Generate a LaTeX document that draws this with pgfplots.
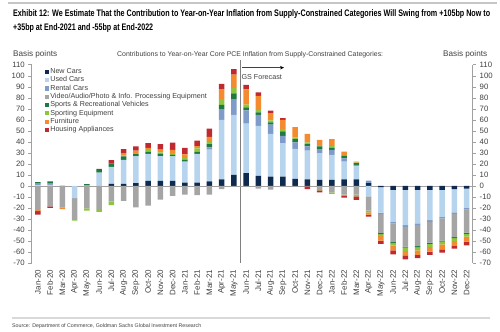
\documentclass[border=0pt]{standalone}
\usepackage{pgfplots}
\pgfplotsset{compat=1.18}
\usepackage{pgfplotstable}
\usepackage{graphicx}
\usepackage{fontspec}
\setmainfont{Liberation Sans}
\usetikzlibrary{arrows.meta}

\definecolor{cN}{HTML}{0E2A4F}
\definecolor{cU}{HTML}{B7D4EF}
\definecolor{cR}{HTML}{7E9BC9}
\definecolor{cV}{HTML}{A5A5A5}
\definecolor{cS}{HTML}{1F7A3F}
\definecolor{cSE}{HTML}{8CC63F}
\definecolor{cF}{HTML}{F58B2F}
\definecolor{cH}{HTML}{BE2A2F}
\definecolor{axg}{HTML}{A0A0A0}
\definecolor{txt}{HTML}{404040}

% positive parts
\pgfplotstableread{
x N U R V S SE F H
0 0 0.5 1.5 0 1.5 0 0 0
1 0 1 1 0 2 0 0 0
2 0 0.5 0 0 0 0 0 0
3 0 0 0 0 0 0 0 0
4 0 0 0.5 0 1 0 0 0
5 0 12 0 0 2.3 0 0 1.2
6 1.8 15.5 0 0 3 0 0 3
7 1.8 21.8 0 0 3.1 1 2 3.6
8 2.5 24.2 0 0 2.1 1 2.2 3.8
9 4.5 24.5 0 0 2 1.5 2 4.3
10 4.5 22.5 0 0 2 1.5 2.5 5
11 4.5 22.2 0 0 1.5 1.5 3 6.5
12 3 19 0 0 1.6 1.5 3.5 6
13 3 26 0 0 2 3 2 5
14 4 29 2 0 3 2 4.5 7.5
15 6 54 9.7 0 3.9 5.2 9.1 4.8
16 10 54.5 14.3 0 5.2 4.8 12.2 5
17 11.5 45 12 0 2.7 2.5 14 4
18 9 45.5 10 0 2.2 2.3 12.8 3
19 8.5 38.8 8.2 0 2.1 1.8 6.6 2.2
20 8.5 30.3 6.7 0 3.9 2.1 8.5 1.5
21 6.4 27.2 5.8 0 3 1.6 9.3 0
22 6 26 3.8 0 2.1 1.5 7.9 0
23 5.5 24.2 3.6 0 2.5 1.2 4.8 0
24 5.5 22.7 4.5 0 2.1 1.5 6.1 0
25 6 16 3 0 2.3 0.9 3 0
26 6 11.6 1.4 0 1.6 0.5 0.9 0
27 2.4 0 2.4 0 0 0 0 0
28 0 0 0 0 0 0 0 0
29 0 0 0 0 0 0 0 0
30 0 0 0 0 0 0 0 0
31 0 0 0 0 0 0 0 0
32 0 0 0 0 0 0 0 0
33 0 0 0 0 0 0 0 0
34 0 0 0 0 0 0 0 0
35 0 0 0 0 0 0 0 0
}\pos

% negative parts
\pgfplotstableread{
x N U R V S SE F H
0 0 0 0 -22 0 0 -1 -3
1 0 0 0 -18.5 0 0 0 -1.5
2 0 0 0 -19.5 0 0 -1.5 0
3 0 -11 0 -19 0 -1.5 0 0
4 0 0 0 -20.5 0 -2 0 0
5 0 0 0 -21 0 -2.5 0 0
6 0 0 0 -14 0 -3.5 0 0
7 0 0 0 -13.5 0 0 0 0
8 0 0 0 -19.5 0 0 0 0
9 0 0 0 -18 0 0 0 0
10 0 0 0 -12.5 0 0 0 0
11 0 0 0 -9 0 0 0 0
12 0 0 0 -8 0 0 0 0
13 0 0 0 -8.5 0 0 0 0
14 0 0 0 -8 0 0 0 0
15 0 0 0 -3 0 0 0 0
16 0 0 0 -1 0 0 0 0
17 0 0 0 -0.5 0 0 0 0
18 0 0 0 -2.5 0 0 0 0
19 0 0 0 -3.5 0 0 0 0
20 0 0 0 -0.5 0 0 0 0
21 0 0 0 -0.5 0 0 0 0
22 0 0 0 -0.5 0 0 0 -2.5
23 0 0 0 -3 0 -1 0 -2
24 0 0 0 -6 0 -1.3 0 0
25 0 0 0 -8 0 -1 0 -1.6
26 0 0 0 -8 0 -1.5 0 -3.2
27 0 -9.5 0 -13 0 -1.5 -2 -2
28 -1.2 -23 -1.5 -17 -1 -2 -4 -3
29 -3.6 -29 -1.5 -17 -1 -2 -4.5 -3.5
30 -3.6 -32 -1.5 -18 -1 -3 -4 -3.5
31 -3.6 -30.5 -1.5 -19 -1 -3 -4 -3
32 -3.6 -27.5 -1.5 -19 -1 -3 -4 -3
33 -3.6 -24.5 -1.5 -20 -1 -2.5 -4.5 -3
34 -3 -21 -1.5 -21 -1 -2.5 -4.5 -2.5
35 -2.5 -17.5 -1.5 -21 -1 -2.5 -4.5 -3.5
}\neg

\pgfplotsset{
  common/.style={
    at={(31.7bp,69bp)}, anchor=south west,
    scale only axis, width=441bp, height=198.3bp,
    xmin=-0.5, xmax=35.5, ymin=-70, ymax=110,
    ybar stacked, bar width=5.6bp,
    clip=false,
    ytick={-70,-60,-50,-40,-30,-20,-10,0,10,20,30,40,50,60,70,80,90,100,110},
    yticklabels={-70,-60,-50,-40,-30,-20,-10,0,10,20,30,40,50,60,70,80,90,100,110},
    yticklabel style={font=\fontsize{7.8}{8}\selectfont, text=txt},
    tick align=outside, major tick length=3.5bp,
    every tick/.style={axg},
    axis line style={axg, line width=0.6bp},
  },
}

\begin{document}
\begin{tikzpicture}
\path[use as bounding box] (0,0) rectangle (500bp,332bp);

% header / footer
\draw[gray!45, line width=1.2bp] (8bp,329bp) -- (497bp,329bp);
\node[anchor=base west, inner sep=0] at (13bp,315.5bp)
  {\resizebox{477bp}{\height}{\fontsize{9.5}{10}\selectfont\bfseries Exhibit 12: We Estimate That the Contribution to Year-on-Year Inflation from Supply-Constrained Categories Will Swing from +105bp Now to}};
\node[anchor=base west, inner sep=0] at (13bp,301.5bp)
  {\resizebox{140bp}{\height}{\fontsize{9.5}{10}\selectfont\bfseries +35bp at End-2021 and -55bp at End-2022}};
\node[anchor=base west, inner sep=0, text=txt] at (13bp,275bp)
  {\resizebox{44bp}{!}{\fontsize{8}{9}\selectfont Basis points}};
\node[anchor=base west, inner sep=0, text=txt] at (443bp,275bp)
  {\resizebox{44bp}{!}{\fontsize{8}{9}\selectfont Basis points}};
\node[anchor=base west, inner sep=0, text=txt] at (117bp,275bp)
  {\resizebox{266bp}{!}{\fontsize{8}{9}\selectfont Contributions to Year-on-Year Core PCE Inflation from Supply-Constrained Categories:}};
\draw[gray!30, line width=1.6bp] (12bp,14bp) -- (490bp,14bp);
\node[anchor=base west, inner sep=0, text=txt] at (12bp,4bp)
  {\resizebox{189bp}{!}{\fontsize{7}{8}\selectfont Source: Department of Commerce, Goldman Sachs Global Investment Research}};

% positive stacks, left axis, legend
\begin{axis}[common,
  axis y line*=left, axis x line*=bottom,
  x axis line style={draw=none},
  xtick={0,...,35},
  xticklabels={Jan-20,Feb-20,Mar-20,Apr-20,May-20,Jun-20,Jul-20,Aug-20,Sep-20,Oct-20,Nov-20,Dec-20,Jan-21,Feb-21,Mar-21,Apr-21,May-21,Jun-21,Jul-21,Aug-21,Sep-21,Oct-21,Nov-21,Dec-21,Jan-22,Feb-22,Mar-22,Apr-22,May-22,Jun-22,Jul-22,Aug-22,Sep-22,Oct-22,Nov-22,Dec-22},
  xticklabel style={rotate=90, anchor=east, font=\fontsize{8}{8}\selectfont, text=txt},
  x tick style={draw=none},
  legend cell align=left,
  legend image code/.code={\fill[#1] (0bp,-2.1bp) rectangle (4.2bp,2.1bp);},
  legend style={at={(rel axis cs:0.03,0.985)}, anchor=north west, draw=none, fill=none,
    font=\fontsize{7.2}{8}\selectfont, text=txt, row sep=0.4bp, inner sep=0pt,
    nodes={inner ysep=0.5bp, inner xsep=1bp, text height=5.3bp, text depth=1.6bp}},
]
\addplot[fill=cN, draw=none] table[x=x, y=N] {\pos};
\addplot[fill=cU, draw=none] table[x=x, y=U] {\pos};
\addplot[fill=cR, draw=none] table[x=x, y=R] {\pos};
\addplot[fill=cV, draw=none] table[x=x, y=V] {\pos};
\addplot[fill=cS, draw=none] table[x=x, y=S] {\pos};
\addplot[fill=cSE, draw=none] table[x=x, y=SE] {\pos};
\addplot[fill=cF, draw=none] table[x=x, y=F] {\pos};
\addplot[fill=cH, draw=none] table[x=x, y=H] {\pos};
\legend{New Cars, Used Cars, Rental Cars, Video/Audio/Photo \& Info. Processing Equipment, Sports \& Recreational Vehicles, Sporting Equipment, Furniture, Housing Appliances}
\end{axis}

% negative stacks, right axis
\begin{axis}[common,
  axis y line*=right, axis x line=none,
  yticklabel style={anchor=west},
]
\addplot[fill=cN, draw=none] table[x=x, y=N] {\neg};
\addplot[fill=cU, draw=none] table[x=x, y=U] {\neg};
\addplot[fill=cR, draw=none] table[x=x, y=R] {\neg};
\addplot[fill=cV, draw=none] table[x=x, y=V] {\neg};
\addplot[fill=cS, draw=none] table[x=x, y=S] {\neg};
\addplot[fill=cSE, draw=none] table[x=x, y=SE] {\neg};
\addplot[fill=cF, draw=none] table[x=x, y=F] {\neg};
\addplot[fill=cH, draw=none] table[x=x, y=H] {\neg};
\draw[axg, line width=0.6bp] (axis cs:-0.5,0) -- (axis cs:35.5,0);
\draw[gray, line width=0.6bp] (axis cs:16.5,-70) -- (axis cs:16.5,114);
\draw[txt, line width=0.6bp, -{Stealth[length=4bp, width=3.5bp, black]}] (axis cs:16.7,107.3) -- (axis cs:20.1,107.3);
\node[anchor=base west, inner sep=0, text=txt, font=\fontsize{7.2}{8}\selectfont] at (axis cs:16.62,96.4) {GS Forecast};
\end{axis}
\end{tikzpicture}
\end{document}
